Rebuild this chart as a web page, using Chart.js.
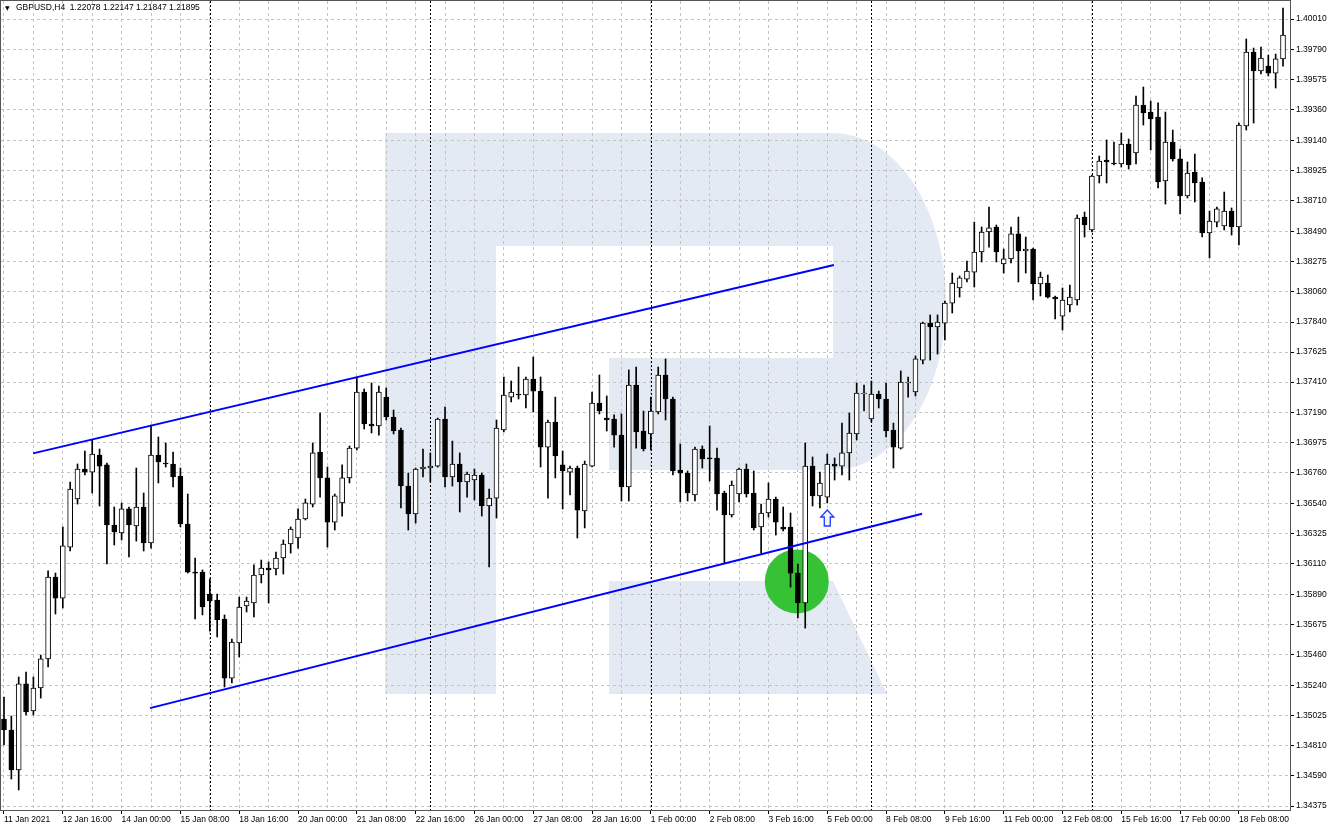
<!DOCTYPE html>
<html>
<head>
<meta charset="utf-8">
<script src="https://cdn.jsdelivr.net/npm/chart.js@4.4.1/dist/chart.umd.min.js"></script>
<style>
  html, body { margin: 0; padding: 0; background: #fff; }
  canvas { display: block; }
</style>
</head>
<body>
<canvas id="chart" width="1329" height="828"></canvas>
<script>
// GBPUSD H4, 11 Jan - 19 Feb 2021, one entry per bar
const opens = [
  1.34998, 1.34919, 1.34633, 1.35249, 1.35055, 1.35220, 1.35428, 1.36015, 1.35864, 1.36229,
  1.36573, 1.36788, 1.36766, 1.36888, 1.36817, 1.36387, 1.36330, 1.36502, 1.36380, 1.36516,
  1.36258, 1.36888, 1.36831, 1.36824, 1.36738, 1.36394, 1.36050, 1.36050, 1.35893, 1.35850,
  1.35714, 1.35291, 1.35542, 1.35807, 1.35829, 1.36029, 1.36079, 1.36072, 1.36151, 1.36251,
  1.36294, 1.36430, 1.36537, 1.36910, 1.36724, 1.36408, 1.36545, 1.36724, 1.36938, 1.37339,
  1.37110, 1.37096, 1.37303, 1.37160, 1.37067, 1.36666, 1.36466, 1.36788, 1.36795, 1.36809,
  1.37146, 1.36731, 1.36824, 1.36695, 1.36709, 1.36745, 1.36523, 1.36580, 1.37067, 1.37303,
  1.37325, 1.37318, 1.37432, 1.37346, 1.36945, 1.37124, 1.36817, 1.36766, 1.36795, 1.36487,
  1.36809, 1.37260, 1.37153, 1.37146, 1.37031, 1.36659, 1.37389, 1.37060, 1.37039, 1.37196,
  1.37461, 1.37289, 1.36781, 1.36759, 1.36602, 1.36931, 1.36867, 1.36867, 1.36616, 1.36459,
  1.36609, 1.36788, 1.36616, 1.36373, 1.36473, 1.36573, 1.36373, 1.36373, 1.36043, 1.35829,
  1.36809, 1.36595, 1.36587, 1.36824, 1.36809, 1.36903, 1.37039, 1.37325, 1.37146, 1.37325,
  1.37289, 1.37067, 1.36938, 1.37404, 1.37339, 1.37568, 1.37833, 1.37805, 1.37833, 1.37976,
  1.38084, 1.38148, 1.38198, 1.38342, 1.38485, 1.38521, 1.38256, 1.38292, 1.38471, 1.38349,
  1.38363, 1.38113, 1.38120, 1.38019, 1.37883, 1.37962, 1.37998, 1.38592, 1.38499, 1.38886,
  1.39000, 1.38979, 1.38972, 1.39115, 1.39051, 1.39394, 1.39344, 1.39308, 1.38850, 1.39129,
  1.39008, 1.38743, 1.38914, 1.38843, 1.38478, 1.38556, 1.38528, 1.38635, 1.38521, 1.39244,
  1.39774, 1.39638, 1.39673, 1.39623, 1.39724
];
const highs = [
  1.35155, 1.35019, 1.35299, 1.35334, 1.35299, 1.35456, 1.36058, 1.36043, 1.36373, 1.36695,
  1.36824, 1.36917, 1.36996, 1.36931, 1.36831, 1.36516, 1.36545, 1.36516, 1.36795, 1.36616,
  1.37103, 1.37017, 1.36974, 1.36910, 1.36795, 1.36609, 1.36151, 1.36065, 1.36000, 1.35893,
  1.35743, 1.35571, 1.35871, 1.35871, 1.36101, 1.36136, 1.36122, 1.36194, 1.36280, 1.36373,
  1.36502, 1.36573, 1.36974, 1.37189, 1.36802, 1.36609, 1.36817, 1.36953, 1.37447, 1.37361,
  1.37404, 1.37382, 1.37368, 1.37210, 1.37081, 1.36759, 1.36795, 1.36931, 1.36903, 1.37153,
  1.37232, 1.36988, 1.36903, 1.36766, 1.36788, 1.36759, 1.36645, 1.37139, 1.37447, 1.37418,
  1.37518, 1.37447, 1.37590, 1.37447, 1.37139, 1.37303, 1.36917, 1.36809, 1.36809, 1.36845,
  1.37339, 1.37461, 1.37311, 1.37175, 1.37182, 1.37497, 1.37518, 1.37203, 1.37303, 1.37518,
  1.37576, 1.37303, 1.36967, 1.36774, 1.36945, 1.36953, 1.37096, 1.36938, 1.36630, 1.36702,
  1.36795, 1.36824, 1.36774, 1.36537, 1.36688, 1.36587, 1.36516, 1.36473, 1.36108, 1.36974,
  1.36874, 1.36766, 1.36895, 1.36867, 1.37117, 1.37189, 1.37404, 1.37389, 1.37418, 1.37346,
  1.37404, 1.37117, 1.37490, 1.37447, 1.37597, 1.37840, 1.37891, 1.37891, 1.37991, 1.38191,
  1.38170, 1.38277, 1.38556, 1.38521, 1.38664, 1.38535, 1.38363, 1.38521, 1.38592, 1.38449,
  1.38370, 1.38198, 1.38177, 1.38027, 1.38084, 1.38105, 1.38607, 1.38628, 1.38893, 1.39029,
  1.39144, 1.39129, 1.39194, 1.39151, 1.39459, 1.39523, 1.39423, 1.39409, 1.39344, 1.39215,
  1.39079, 1.38986, 1.39043, 1.38872, 1.38635, 1.38664, 1.38771, 1.38657, 1.39265, 1.39867,
  1.39802, 1.39809, 1.39752, 1.39759, 1.40089
];
const lows = [
  1.34812, 1.34568, 1.34490, 1.35027, 1.35027, 1.35148, 1.35370, 1.35750, 1.35793, 1.36201,
  1.36537, 1.36745, 1.36616, 1.36523, 1.36108, 1.36244, 1.36280, 1.36158, 1.36272, 1.36201,
  1.36222, 1.36688, 1.36802, 1.36659, 1.36373, 1.36043, 1.35714, 1.35743, 1.35628, 1.35585,
  1.35227, 1.35256, 1.35442, 1.35764, 1.35728, 1.35972, 1.35829, 1.36029, 1.36036, 1.36186,
  1.36222, 1.36423, 1.36516, 1.36587, 1.36229, 1.36351, 1.36451, 1.36688, 1.36924, 1.37074,
  1.37046, 1.37031, 1.37139, 1.37039, 1.36509, 1.36351, 1.36401, 1.36731, 1.36695, 1.36802,
  1.36659, 1.36666, 1.36480, 1.36587, 1.36566, 1.36451, 1.36086, 1.36437, 1.37053, 1.37268,
  1.37289, 1.37225, 1.37196, 1.36802, 1.36580, 1.36724, 1.36502, 1.36602, 1.36294, 1.36366,
  1.36802, 1.37182, 1.37060, 1.36945, 1.36559, 1.36559, 1.36938, 1.36917, 1.36924, 1.37182,
  1.37139, 1.36745, 1.36552, 1.36559, 1.36559, 1.36795, 1.36702, 1.36494, 1.36115, 1.36444,
  1.36552, 1.36587, 1.36351, 1.36186, 1.36444, 1.36315, 1.36344, 1.35943, 1.35721, 1.35649,
  1.36523, 1.36509, 1.36545, 1.36709, 1.36745, 1.36709, 1.36996, 1.37203, 1.37124, 1.37225,
  1.37017, 1.36795, 1.36931, 1.37303, 1.37311, 1.37540, 1.37568, 1.37611, 1.37712, 1.37905,
  1.38019, 1.38127, 1.38091, 1.38270, 1.38377, 1.38270, 1.38191, 1.38263, 1.38127, 1.38191,
  1.37998, 1.38027, 1.38012, 1.37862, 1.37783, 1.37912, 1.37962, 1.38449, 1.38485, 1.38836,
  1.38836, 1.38965, 1.38950, 1.38936, 1.38972, 1.39251, 1.39072, 1.38800, 1.38685, 1.38993,
  1.38614, 1.38728, 1.38700, 1.38449, 1.38299, 1.38521, 1.38499, 1.38463, 1.38392, 1.39215,
  1.39265, 1.39616, 1.39602, 1.39516, 1.39673
];
const closes = [
  1.34919, 1.34633, 1.35249, 1.35048, 1.35220, 1.35428, 1.36015, 1.35864, 1.36237, 1.36645,
  1.36788, 1.36766, 1.36895, 1.36809, 1.36387, 1.36337, 1.36502, 1.36387, 1.36516, 1.36258,
  1.36888, 1.36838, 1.36824, 1.36731, 1.36394, 1.36050, 1.36043, 1.35800, 1.35843, 1.35707,
  1.35291, 1.35549, 1.35800, 1.35843, 1.36029, 1.36079, 1.36065, 1.36151, 1.36251, 1.36358,
  1.36430, 1.36545, 1.36903, 1.36724, 1.36408, 1.36595, 1.36724, 1.36938, 1.37339, 1.37110,
  1.37096, 1.37339, 1.37160, 1.37060, 1.36666, 1.36466, 1.36788, 1.36802, 1.36809, 1.37146,
  1.36731, 1.36824, 1.36695, 1.36752, 1.36745, 1.36523, 1.36580, 1.37081, 1.37318, 1.37339,
  1.37318, 1.37432, 1.37346, 1.36945, 1.37124, 1.36881, 1.36774, 1.36795, 1.36494, 1.36824,
  1.37260, 1.37203, 1.37139, 1.37031, 1.36659, 1.37389, 1.37053, 1.36931, 1.37203, 1.37461,
  1.37289, 1.36774, 1.36759, 1.36616, 1.36931, 1.36860, 1.36860, 1.36609, 1.36459, 1.36673,
  1.36788, 1.36609, 1.36366, 1.36473, 1.36573, 1.36408, 1.36358, 1.36043, 1.35829, 1.36809,
  1.36595, 1.36688, 1.36824, 1.36809, 1.36903, 1.37046, 1.37332, 1.37332, 1.37325, 1.37289,
  1.37060, 1.36945, 1.37411, 1.37411, 1.37576, 1.37833, 1.37805, 1.37840, 1.37976, 1.38120,
  1.38156, 1.38206, 1.38342, 1.38485, 1.38514, 1.38342, 1.38292, 1.38471, 1.38349, 1.38363,
  1.38113, 1.38163, 1.38019, 1.38005, 1.37998, 1.38019, 1.38585, 1.38535, 1.38886, 1.38993,
  1.38986, 1.38972, 1.39115, 1.38965, 1.39394, 1.39337, 1.39294, 1.38843, 1.39129, 1.39008,
  1.38743, 1.38907, 1.38836, 1.38478, 1.38564, 1.38650, 1.38635, 1.38521, 1.39251, 1.39774,
  1.39638, 1.39731, 1.39623, 1.39724, 1.39895
];

// time axis: one label every 8 bars
const xLabels = [
  '11 Jan 2021', '12 Jan 16:00', '14 Jan 00:00', '15 Jan 08:00', '18 Jan 16:00', '20 Jan 00:00',
  '21 Jan 08:00', '22 Jan 16:00', '26 Jan 00:00', '27 Jan 08:00', '28 Jan 16:00', '1 Feb 00:00',
  '2 Feb 08:00', '3 Feb 16:00', '5 Feb 00:00', '8 Feb 08:00', '9 Feb 16:00', '11 Feb 00:00',
  '12 Feb 08:00', '15 Feb 16:00', '17 Feb 00:00', '18 Feb 08:00'
];
const yTicks = [
  1.40010, 1.39790, 1.39575, 1.39360, 1.39140, 1.38925, 1.38710, 1.38490, 1.38275,
  1.38060, 1.37840, 1.37625, 1.37410, 1.37190, 1.36975, 1.36760, 1.36540, 1.36325,
  1.36110, 1.35890, 1.35675, 1.35460, 1.35240, 1.35025, 1.34810, 1.34590, 1.34375
];
const weekStarts = [28, 58, 88, 118, 148];

// channel lines (bar index, price)
const upperLine = [{ x: 3.95, y: 1.36900 }, { x: 112.9, y: 1.38249 }];
const lowerLine = [{ x: 19.86, y: 1.35076 }, { x: 124.9, y: 1.36468 }];
const markCircle = [{ x: 107.85, y: 1.35983, r: 32 }];
const arrowBar = 112;
const arrowPrice = 1.36437;

const bars = opens.map((o, i) => i);
const wickData = bars.map(i => ({ x: i, y: [lows[i], highs[i]] }));
const bodyData = bars.map(i => ({ x: i, y: [opens[i], closes[i]] }));
const bodyFill = bars.map(i => closes[i] >= opens[i] ? '#ffffff' : '#000000');

const axisFont = { family: "'Liberation Sans', Arial, sans-serif", size: 8.5 };

const logoPlugin = {
  id: 'logo',
  beforeDraw(chart) {
    const ctx = chart.ctx;
    ctx.save();
    ctx.fillStyle = '#e4eaf3';
    ctx.beginPath();
    ctx.rect(385, 133, 111, 561);
    ctx.rect(496, 133, 337, 113);
    ctx.rect(609, 358, 224, 112);
    ctx.moveTo(833, 133);
    ctx.ellipse(833, 301.5, 113, 168.5, 0, -Math.PI / 2, Math.PI / 2);
    ctx.closePath();
    ctx.moveTo(609, 581);
    ctx.lineTo(833, 581);
    ctx.lineTo(887, 694);
    ctx.lineTo(609, 694);
    ctx.closePath();
    ctx.fill();
    ctx.restore();
  }
};

const extrasPlugin = {
  id: 'extras',
  beforeDatasetsDraw(chart) {
    const { ctx, chartArea, scales } = chart;
    ctx.save();
    ctx.strokeStyle = '#000';
    ctx.lineWidth = 1;
    ctx.setLineDash([2, 2]);
    weekStarts.forEach(i => {
      const x = Math.round(scales.x.getPixelForValue(i)) + 0.5;
      ctx.beginPath();
      ctx.moveTo(x, chartArea.top);
      ctx.lineTo(x, chartArea.bottom);
      ctx.stroke();
    });
    ctx.restore();
  },
  afterDraw(chart) {
    const { ctx, chartArea, scales } = chart;
    ctx.save();
    // frame
    ctx.strokeStyle = '#555';
    ctx.lineWidth = 1;
    ctx.strokeRect(chartArea.left - 0.5, chartArea.top - 0.5,
      chartArea.right - chartArea.left + 1, chartArea.bottom - chartArea.top + 1);

    // signal arrow under the bar
    const ax = scales.x.getPixelForValue(arrowBar);
    const ay = scales.y.getPixelForValue(arrowPrice);
    ctx.beginPath();
    ctx.moveTo(ax, ay - 8);
    ctx.lineTo(ax + 6.5, ay - 1);
    ctx.lineTo(ax + 3, ay - 1);
    ctx.lineTo(ax + 3, ay + 8);
    ctx.lineTo(ax - 3, ay + 8);
    ctx.lineTo(ax - 3, ay - 1);
    ctx.lineTo(ax - 6.5, ay - 1);
    ctx.closePath();
    ctx.fillStyle = '#f4f6ff';
    ctx.fill();
    ctx.strokeStyle = '#1f3cff';
    ctx.lineWidth = 1.3;
    ctx.stroke();

    // header
    ctx.fillStyle = '#000';
    ctx.textBaseline = 'middle';
    ctx.font = "6px 'DejaVu Sans', sans-serif";
    ctx.fillText('\u25BC', 5, 8);
    ctx.font = "8.5px 'Liberation Sans', Arial, sans-serif";
    ctx.fillText('GBPUSD,H4  1.22078 1.22147 1.21847 1.21895', 16, 8);
    ctx.restore();
  }
};

new Chart(document.getElementById('chart').getContext('2d'), {
  type: 'bar',
  data: {
    datasets: [
      {
        type: 'bubble',
        data: markCircle,
        backgroundColor: '#35c235',
        borderWidth: 0,
        order: 4
      },
      {
        label: 'wicks',
        data: wickData,
        backgroundColor: '#000',
        borderWidth: 0,
        barThickness: 1,
        grouped: false,
        order: 3
      },
      {
        label: 'bodies',
        data: bodyData,
        backgroundColor: bodyFill,
        borderColor: '#000',
        borderWidth: 1,
        borderSkipped: false,
        barThickness: 5,
        minBarLength: 1,
        grouped: false,
        order: 2
      },
      {
        type: 'line',
        data: upperLine,
        borderColor: '#0000ff',
        borderWidth: 2,
        pointRadius: 0,
        order: 1
      },
      {
        type: 'line',
        data: lowerLine,
        borderColor: '#0000ff',
        borderWidth: 2,
        pointRadius: 0,
        order: 1
      }
    ]
  },
  options: {
    responsive: false,
    devicePixelRatio: 1,
    animation: false,
    events: [],
    layout: { autoPadding: false, padding: { left: 1, top: 1, right: 0, bottom: 0 } },
    plugins: {
      legend: { display: false },
      tooltip: { enabled: false },
      title: { display: false }
    },
    scales: {
      x: {
        type: 'linear',
        position: 'bottom',
        min: -0.408,
        max: 174.95,
        offset: false,
        afterBuildTicks: s => {
          s.ticks = [];
          for (let v = 0; v < opens.length; v += 4) s.ticks.push({ value: v });
        },
        afterFit: s => {
          s.height = 18;
          s.paddingLeft = 0;
          s.paddingRight = 0;
        },
        ticks: {
          autoSkip: false,
          maxRotation: 0,
          minRotation: 0,
          align: 'start',
          padding: 1,
          color: '#000',
          font: axisFont,
          callback: v => (v % 8 === 0 ? (xLabels[v / 8] || '') : '')
        },
        grid: {
          offset: false,
          color: '#c4c4c4',
          lineWidth: 1,
          tickLength: 4,
          tickColor: c => (c.tick && c.tick.value % 8 === 0 ? '#000' : 'rgba(0,0,0,0)')
        },
        border: { display: false, dash: [3, 3] }
      },
      y: {
        type: 'linear',
        position: 'right',
        min: 1.343464,
        max: 1.401389,
        beginAtZero: false,
        afterBuildTicks: s => {
          s.ticks = yTicks.map(v => ({ value: v }));
        },
        afterFit: s => {
          s.width = 39;
          s.paddingTop = 0;
          s.paddingBottom = 0;
        },
        ticks: {
          autoSkip: false,
          padding: 2,
          color: '#000',
          font: axisFont,
          callback: v => v.toFixed(5)
        },
        grid: {
          color: '#c4c4c4',
          lineWidth: 1,
          tickLength: 4,
          tickColor: '#000'
        },
        border: { display: false, dash: [3, 3] }
      }
    }
  },
  plugins: [logoPlugin, extrasPlugin]
});
</script>
</body>
</html>
